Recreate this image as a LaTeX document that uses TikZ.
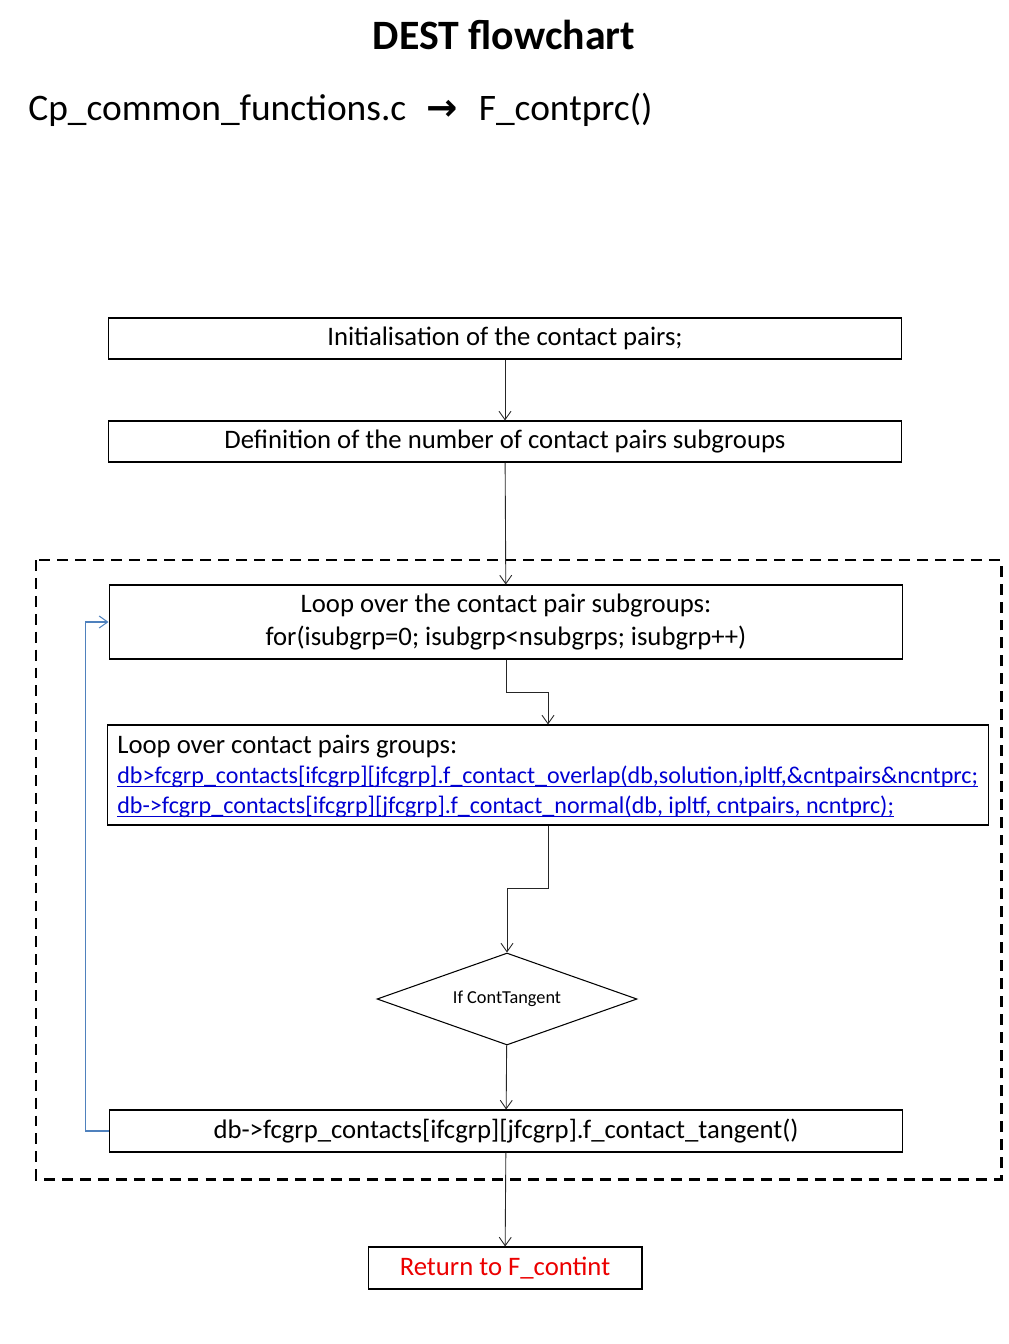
\documentclass[tikz,border=0pt]{standalone}
\usepackage{fontspec}
\setmainfont{Carlito}
\newfontfamily\arrowfont{DejaVu Sans}
\usetikzlibrary{arrows.meta,shapes.geometric}
\definecolor{linkblue}{RGB}{0,0,210}
\definecolor{loopblue}{RGB}{79,129,189}
\definecolor{retred}{RGB}{235,0,0}
\newsavebox\linkbox
\newcommand\linktext[1]{\sbox\linkbox{#1}\rlap{\rule[-1.8pt]{\wd\linkbox}{0.55pt}}\usebox\linkbox}
\tikzset{
    proc/.style = {
        draw,
        rectangle,
        line width=0.6pt,
        minimum width=15.88cm,
        minimum height=0.82cm,
        inner sep=0pt,
        font=\fontsize{15.2}{18}\selectfont,
        },
    cond/.style = {
        draw,
        diamond,
        shape aspect=2.8,
        line width=0.6pt,
        minimum width=5.2cm,
        minimum height=1.84cm,
        inner sep=0pt,
        font=\fontsize{10.4}{12}\selectfont,
        },
    flow/.style = {
        draw=black!85,
        line width=0.5pt,
        -{Straight Barb[length=0.17cm,width=0.24cm]},
        },
    loop back/.style = {
        draw=loopblue,
        line width=0.6pt,
        -{Straight Barb[length=0.17cm,width=0.24cm]},
        },
    frame/.style = {
        draw,
        line width=1.7pt,
        dash pattern=on 6.2pt off 4pt,
        },
    link/.style = {
        font=\fontsize{13.7}{16.7}\selectfont,
        },
}
\begin{document}
\begin{tikzpicture}[x=0.02cm, y=-0.02cm]
            \useasboundingbox (0,0) rectangle (1008,1344);

            \node[font=\fontsize{23.8}{28}\selectfont\bfseries] (title) at (504,35) {DEST flowchart};
            \node[anchor=west, inner sep=0pt, font=\fontsize{21.3}{25}\selectfont] (file) at (28,110)
                {Cp\_common\_functions.c\hspace{0.55em}{\arrowfont\bfseries →}\hspace{0.55em}F\_contprc()};

            \draw[frame] (36,560) rectangle (1001,1179);

            \node[proc] (init) at (505,338.5) {Initialisation of the contact pairs;};
            \node[proc] (def) at (505,441.5) {Definition of the number of contact pairs subgroups};
            \node[proc, minimum height=1.48cm, align=center, font=\fontsize{15.2}{18.3}\selectfont] (loop) at (506,622)
                {Loop over the contact pair subgroups:\\for(isubgrp=0; isubgrp<nsubgrps; isubgrp++)};
            \node[proc, minimum width=17.64cm, minimum height=2cm] (grp) at (548,775) {};
            \node[anchor=west, inner sep=0pt, align=left, font=\fontsize{15.2}{16.9}\selectfont] (grptext) at (117,776.5)
                {Loop over contact pairs groups:\\
                 {\fontsize{13.7}{16.9}\selectfont\color{linkblue}\linktext{db>fcgrp\_contacts[ifcgrp][jfcgrp].f\_contact\_overlap(db,solution,ipltf,\&cntpairs\&ncntprc;}}\\
                 {\fontsize{13.7}{16.9}\selectfont\color{linkblue}\linktext{db->fcgrp\_contacts[ifcgrp][jfcgrp].f\_contact\_normal(db, ipltf, cntpairs, ncntprc);}}};
            \node[cond] (tang) at (507,999) {If ContTangent};
            \node[proc, minimum height=0.84cm] (tan) at (506,1131) {db->fcgrp\_contacts[ifcgrp][jfcgrp].f\_contact\_tangent()};
            \node[proc, minimum width=5.48cm, minimum height=0.84cm, text=retred] (ret) at (505,1268) {Return to F\_contint};

            \path[flow] (init) -- (def);
            \path[flow] (def) -- (loop);
            \path[flow] (loop.south) -- ++(0,33) -| (grp.north);
            \path[flow] (grp.south) -- ++(0,63) -| (tang.north);
            \path[flow] (tang) -- (tan);
            \path[flow] (tan) -- (ret);
            \path[loop back] (tan.west) -- ++(-23,0) |- (loop.west);
        \end{tikzpicture}
\end{document}
